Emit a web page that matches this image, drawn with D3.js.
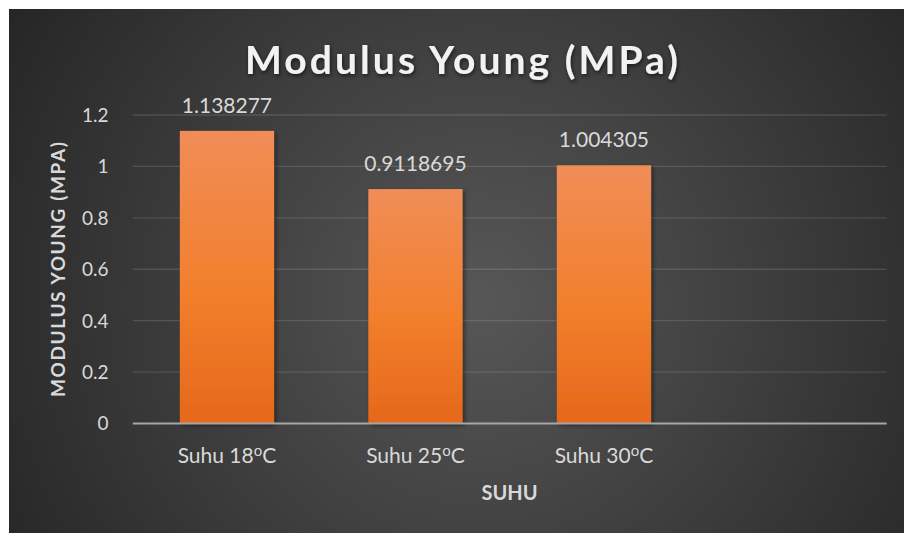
<!DOCTYPE html>
<html><head><meta charset="utf-8">
<script src="https://cdn.jsdelivr.net/npm/d3@7"></script>
<style>html,body{margin:0;padding:0;background:#fff;}svg{display:block;}</style>
</head><body>
<div id="chart"></div>
<script>
const categories = ["Suhu 18", "Suhu 25", "Suhu 30", ""];
const values = [1.138277, 0.9118695, 1.004305, null];
const valueLabels = ["1.138277", "0.9118695", "1.004305", ""];
const yTicks = [0, 0.2, 0.4, 0.6, 0.8, 1, 1.2];
const yTickLabels = ["0", "0.2", "0.4", "0.6", "0.8", "1", "1.2"];
const titleText = "Modulus Young (MPa)";
const yTitle = "MODULUS YOUNG (MPA)";
const xTitle = "SUHU";

const W = 904, H = 533;
const FONT = "Lato, 'Open Sans', sans-serif";
const svg = d3.select("#chart").append("svg").attr("width", W).attr("height", H);
const defs = svg.append("defs");

const rg = defs.append("radialGradient").attr("id", "bg")
  .attr("gradientUnits", "userSpaceOnUse").attr("cx", 480).attr("cy", 300).attr("r", 560);
rg.append("stop").attr("offset", "0%").attr("stop-color", "#575757");
rg.append("stop").attr("offset", "100%").attr("stop-color", "#252525");

const bg = defs.append("linearGradient").attr("id", "bar").attr("x1", 0).attr("y1", 0).attr("x2", 0).attr("y2", 1);
bg.append("stop").attr("offset", "0%").attr("stop-color", "#f08d57");
bg.append("stop").attr("offset", "55%").attr("stop-color", "#f27f2c");
bg.append("stop").attr("offset", "100%").attr("stop-color", "#e5681b");

const sh = defs.append("filter").attr("id", "shadow").attr("x", "-20%").attr("y", "-20%").attr("width", "140%").attr("height", "140%");
sh.append("feDropShadow").attr("dx", 2).attr("dy", 2).attr("stdDeviation", 2).attr("flood-color", "#000").attr("flood-opacity", 0.45);
const tsh = defs.append("filter").attr("id", "tshadow").attr("x", "-10%").attr("y", "-30%").attr("width", "120%").attr("height", "160%");
tsh.append("feDropShadow").attr("dx", 1).attr("dy", 2).attr("stdDeviation", 2).attr("flood-color", "#000").attr("flood-opacity", 0.6);

svg.append("rect").attr("x", 9).attr("y", 9).attr("width", W - 9).attr("height", H - 9).attr("fill", "url(#bg)");

const x0 = 132.7, x1 = 886.7, yBase = 423.5, yTop = 115;
const x = d3.scaleBand().domain(categories.map((d, i) => i)).range([x0, x1]).paddingInner(0.5).paddingOuter(0.25);
const y = d3.scaleLinear().domain([0, 1.2]).range([yBase, yTop]);

// gridlines
svg.append("g").selectAll("line").data(yTicks.filter(t => t > 0)).join("line")
  .attr("x1", x0).attr("x2", x1).attr("y1", d => y(d)).attr("y2", d => y(d))
  .attr("stroke", "#ffffff").attr("stroke-opacity", 0.13).attr("stroke-width", 1.3);

// y tick labels
svg.append("g").selectAll("text").data(yTicks).join("text")
  .attr("x", 108.5).attr("y", d => y(d)).attr("dy", "0.36em")
  .attr("text-anchor", "end").attr("font-family", FONT).attr("font-size", 19)
  .attr("fill", "#d9d9d9").text((d, i) => yTickLabels[i]);

// bars
const data = categories.map((c, i) => ({i, c, v: values[i], lab: valueLabels[i]})).filter(d => d.v != null);
svg.append("g").selectAll("rect").data(data).join("rect")
  .attr("x", d => x(d.i)).attr("width", x.bandwidth())
  .attr("y", d => y(d.v)).attr("height", d => yBase - y(d.v))
  .attr("fill", "url(#bar)").attr("filter", "url(#shadow)");

// axis line
svg.append("line").attr("x1", x0).attr("x2", x1).attr("y1", yBase).attr("y2", yBase)
  .attr("stroke", "#a6a6a6").attr("stroke-width", 2);

// data labels
svg.append("g").selectAll("text").data(data).join("text")
  .attr("x", d => x(d.i) + x.bandwidth() / 2).attr("y", d => y(d.v) - 18)
  .attr("text-anchor", "middle").attr("font-family", FONT).attr("font-size", 21)
  .attr("fill", "#d9d9d9").text(d => d.lab);

// category labels
const cl = svg.append("g").selectAll("text").data(categories.map((c, i) => ({c, i})).filter(d => d.c)).join("text")
  .attr("x", d => x(d.i) + x.bandwidth() / 2).attr("y", 463)
  .attr("text-anchor", "middle").attr("font-family", FONT).attr("font-size", 21)
  .attr("fill", "#d9d9d9");
cl.append("tspan").text(d => d.c);
cl.append("tspan").attr("dy", -7).attr("font-size", 15).text("o");
cl.append("tspan").attr("dy", 7).text("C");

// title
svg.append("text").attr("x", 461.5).attr("y", 74).attr("text-anchor", "middle")
  .attr("font-family", FONT).attr("font-weight", "bold").attr("font-size", 39)
  .attr("fill", "#f2f2f2").attr("textLength", 433).attr("lengthAdjust", "spacing")
  .attr("filter", "url(#tshadow)").text(titleText);

// axis titles
svg.append("text").attr("transform", "translate(65,269.5) rotate(-90)").attr("text-anchor", "middle")
  .attr("font-family", FONT).attr("font-weight", "bold").attr("font-size", 19)
  .attr("fill", "#d9d9d9").attr("textLength", 255).attr("lengthAdjust", "spacing").text(yTitle);
svg.append("text").attr("x", 509.5).attr("y", 500).attr("text-anchor", "middle")
  .attr("font-family", FONT).attr("font-weight", "bold").attr("font-size", 20)
  .attr("fill", "#d9d9d9").text(xTitle);
</script>
</body></html>
